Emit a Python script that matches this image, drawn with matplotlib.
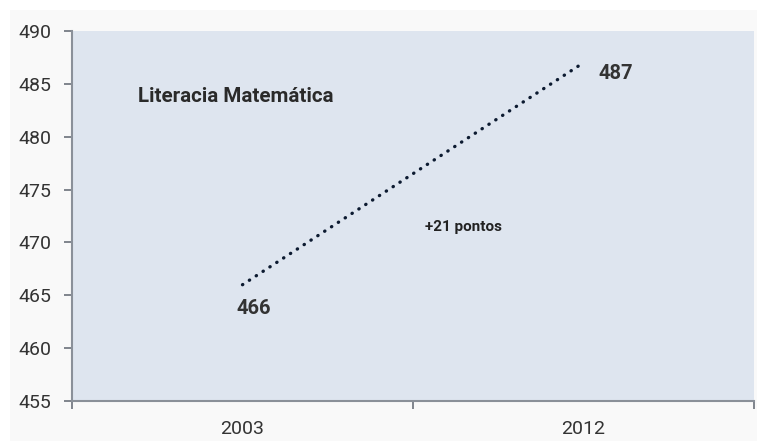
import matplotlib
matplotlib.use("Agg")
import matplotlib.pyplot as plt
from matplotlib.patches import Rectangle

years = ["2003", "2012"]
scores = [466, 487]
y_ticks = [455, 460, 465, 470, 475, 480, 485, 490]
title_text = "Literacia Matemática"
change_text = "+21 pontos"

plt.rcParams['font.family'] = ['Roboto', 'DejaVu Sans']

W, H = 757, 441
fig = plt.figure(figsize=(W / 100, H / 100), dpi=100, facecolor="white")
# light panel behind the chart, leaving a thin white margin top and left
fig.add_artist(Rectangle((10 / W, 0), 1 - 10 / W, 1 - 10 / H,
                         transform=fig.transFigure, facecolor="#f9f9f9",
                         edgecolor="none", zorder=-10))

ax = fig.add_axes([72 / W, 1 - 401 / H, (754 - 72) / W, (401 - 31) / H])
ax.set_facecolor("#dee5ef")

x = [0.5, 1.5]
ax.plot(x, scores, linestyle=(0, (0.1, 2.35)), dash_capstyle="round",
        color="#0c1a30", linewidth=2.4)

ax.set_xlim(0, 2)
ax.set_ylim(455, 490)
ax.set_yticks(y_ticks)
ax.set_yticklabels([str(v) for v in y_ticks])
ax.set_xticks([0, 1, 2])
ax.set_xticklabels([])
ax.set_xticks(x, minor=True)
ax.set_xticklabels(years, minor=True)
ax.tick_params(axis="x", which="minor", length=0, pad=14)
ax.tick_params(axis="x", which="major", length=6, direction="out",
               color="#6b717a", width=1.2)
ax.tick_params(axis="y", length=6, direction="out", color="#6b717a",
               width=1.2, pad=9)
for lbl in ax.get_yticklabels() + ax.get_xticklabels(minor=True):
    lbl.set_fontsize(14)
    lbl.set_color("#333333")

for side in ["top", "right"]:
    ax.spines[side].set_visible(False)
for side in ["left", "bottom"]:
    ax.spines[side].set_color("#8a9099")
    ax.spines[side].set_linewidth(1.5)

ax.annotate(str(scores[0]), (x[0], scores[0]), xytext=(-4, -10),
            textcoords="offset points", ha="left", va="top",
            fontsize=14.5, fontweight="bold", color="#333333")
ax.annotate(str(scores[1]), (x[1], scores[1]), xytext=(11, -8),
            textcoords="offset points", ha="left", va="center",
            fontsize=14.5, fontweight="bold", color="#333333")
ax.text(0.518, 0.47, change_text, transform=ax.transAxes, ha="left",
        va="center", fontsize=11, fontweight="bold", color="#222222")
ax.text(0.097, 0.822, title_text, transform=ax.transAxes, ha="left",
        va="center", fontsize=14.8, fontweight="bold", color="#2a2a2a")

fig.savefig("out.png", dpi=100, facecolor=fig.get_facecolor())
